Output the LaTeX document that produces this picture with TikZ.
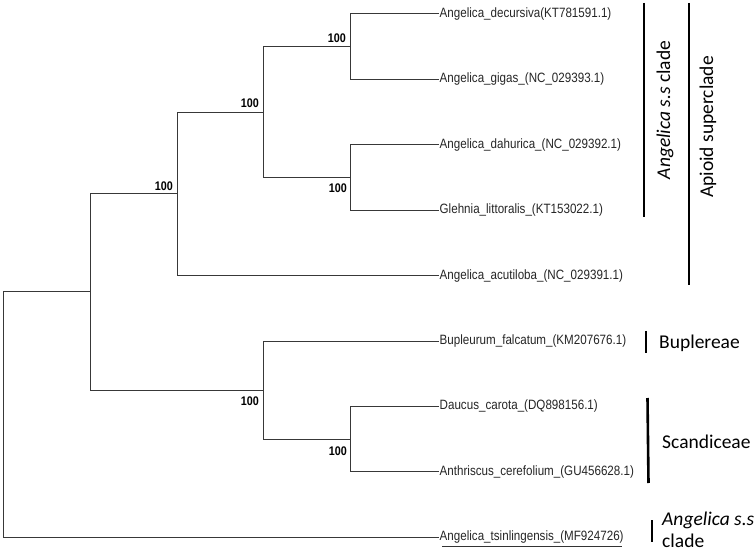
\documentclass[tikz,border=0pt]{standalone}
\usepackage{fontspec}
\newfontfamily\treefont[FakeStretch=0.86]{Liberation Sans}
\newfontfamily\cladefont{Carlito}
\begin{document}
\begin{tikzpicture}[x=1pt,y=-1pt,
  br/.style={draw=black!78, line width=1pt, line cap=rect},
  leaf/.style={anchor=west, inner xsep=1.5pt, inner ysep=0pt, font=\treefont\fontsize{13.5}{16}\selectfont, text=black!85},
  boot/.style={anchor=east, inner sep=0pt, font=\treefont\bfseries\fontsize{12.5}{14}\selectfont},
  bar/.style={line width=2.6pt, black},
  clade/.style={font=\cladefont\fontsize{19.5}{22.5}\selectfont, inner sep=0pt}]
\useasboundingbox (0,0) rectangle (755,553);
\fill[white] (0,0) rectangle (755,553);
% leaves
\node[leaf] (l1) at (438,14) {Angelica\_decursiva(KT781591.1)};
\node[leaf] (l2) at (438,79.4) {Angelica\_gigas\_(NC\_029393.1)};
\node[leaf] (l3) at (438,144.8) {Angelica\_dahurica\_(NC\_029392.1)};
\node[leaf] (l4) at (438,210.2) {Glehnia\_littoralis\_(KT153022.1)};
\node[leaf] (l5) at (438,275.6) {Angelica\_acutiloba\_(NC\_029391.1)};
\node[leaf] (l6) at (438,341) {Bupleurum\_falcatum\_(KM207676.1)};
\node[leaf] (l7) at (438,406.4) {Daucus\_carota\_(DQ898156.1)};
\node[leaf] (l8) at (438,471.8) {Anthriscus\_cerefolium\_(GU456628.1)};
\node[leaf] (l9) at (438,537.2) {Angelica\_tsinlingensis\_(MF924726)};
% internal nodes
\coordinate (D) at (350,46.7);
\coordinate (E) at (350,177.5);
\coordinate (C) at (263,112.1);
\coordinate (B) at (177,193.9);
\coordinate (G) at (350,439.1);
\coordinate (F) at (263,390);
\coordinate (A) at (90,292);
\coordinate (R) at (3,414.6);
% branches
\draw[br] (D) |- (l1.west);
\draw[br] (D) |- (l2.west);
\draw[br] (E) |- (l3.west);
\draw[br] (E) |- (l4.west);
\draw[br] (C) |- (D);
\draw[br] (C) |- (E);
\draw[br] (B) |- (C);
\draw[br] (B) |- (l5.west);
\draw[br] (A) |- (B);
\draw[br] (A) |- (F);
\draw[br] (F) |- (l6.west);
\draw[br] (F) |- (G);
\draw[br] (G) |- (l7.west);
\draw[br] (G) |- (l8.west);
\draw[br] (R) |- (A);
\draw[br] (R) |- (l9.west);
% bootstrap values
\node[boot] (bD) at (346,38) {100};
\node[boot] (bC) at (259,103) {100};
\node[boot] (bE) at (347,188) {100};
\node[boot] (bB) at (173,186) {100};
\node[boot] (bF) at (259,401) {100};
\node[boot] (bG) at (347,451) {100};
% underline
\draw[black!80, line width=0.7pt] (442,546.5) -- (622,546.5);
% clade bars
\draw[bar] (644,3) -- (644,217);
\draw[bar] (689,3) -- (689,285);
\draw[bar] (646,331) -- (646,353);
\draw[bar] (647.5,398) -- (648.5,483);
\draw[bar] (652,520) -- (652,542);
% clade labels
\node[clade, rotate=90] (t1) at (665,110) {\textit{Angelica s.s} clade};
\node[clade, rotate=90] (t2) at (708,127) {Apioid superclade};
\node[clade, anchor=west] (t3) at (659,343) {Buplereae};
\node[clade, anchor=west] (t4) at (662,442) {Scandiceae};
\node[clade, anchor=west, align=left] (t5) at (662,530) {\textit{Angelica s.s}\\clade};
\end{tikzpicture}
\end{document}
